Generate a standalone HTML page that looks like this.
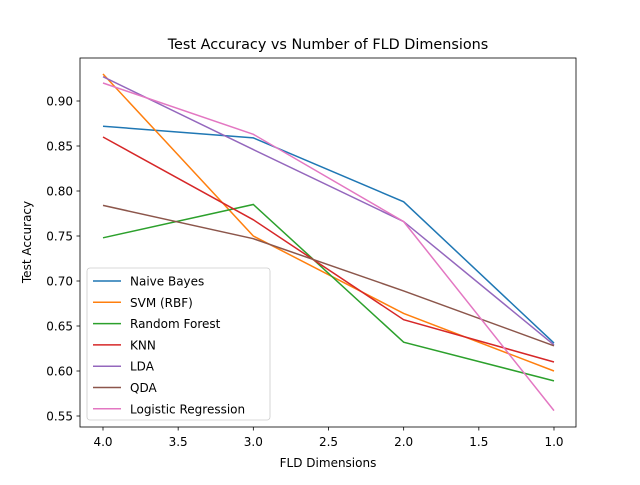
<!DOCTYPE html>
<html><head><meta charset="utf-8"><style>body{margin:0;background:#fff}text{font-family:"DejaVu Sans","Liberation Sans",sans-serif}</style></head>
<body>
<svg id="chart" width="640" height="480" xmlns="http://www.w3.org/2000/svg">
<rect width="640" height="480" fill="#fff"/>
<text x="328" y="49" font-size="14.4" text-anchor="middle">Test Accuracy vs Number of FLD Dimensions</text>
<g id="plot"></g>
<rect x="80" y="58" width="496" height="369" fill="none" stroke="#000" stroke-width="0.8"/>
<text x="328" y="467" font-size="12" text-anchor="middle">FLD Dimensions</text>
<text transform="translate(31,242) rotate(-90)" font-size="12" text-anchor="middle">Test Accuracy</text>
<g id="legend"></g>
</svg>
<script>
const dims=[4,3,2,1];
const seriesNames=["Naive Bayes","SVM (RBF)","Random Forest","KNN","LDA","QDA","Logistic Regression"];
const colors=["#1f77b4","#ff7f0e","#2ca02c","#d62728","#9467bd","#8c564b","#e377c2"];
const naiveBayes=[0.872,0.859,0.788,0.631];
const svm=[0.930,0.750,0.664,0.600];
const randomForest=[0.748,0.785,0.632,0.589];
const knn=[0.860,0.768,0.657,0.610];
const lda=[0.927,0.846,0.766,0.629];
const qda=[0.784,0.747,0.689,0.628];
const logReg=[0.920,0.863,0.766,0.556];
const xTicks=[4.0,3.5,3.0,2.5,2.0,1.5,1.0];
const yTicks=[0.55,0.60,0.65,0.70,0.75,0.80,0.85,0.90];
const allSeries=[naiveBayes,svm,randomForest,knn,lda,qda,logReg];
const NS="http://www.w3.org/2000/svg";
function X(v){return 103+(4-v)*150.33;}
function Y(v){return 101+(0.9-v)*900;}
const g=document.getElementById('plot');
function mk(t,a,p){const e=document.createElementNS(NS,t);for(const k in a)e.setAttribute(k,a[k]);(p||g).appendChild(e);return e;}
xTicks.forEach(t=>{
 const l=mk('line',{x1:X(t),x2:X(t),y1:427,y2:430.5,stroke:'#000','stroke-width':0.8});
 
 
 const s=mk('text',{x:X(t),y:446,'font-size':12,'text-anchor':'middle'});s.textContent=t.toFixed(1);
 
 
});
yTicks.forEach(t=>{
 const l=mk('line',{x1:76.5,x2:80,y1:Y(t),y2:Y(t),stroke:'#000','stroke-width':0.8});
 
 
 const s=mk('text',{x:73,y:Y(t)+4.3,'font-size':12,'text-anchor':'end'});s.textContent=t.toFixed(2);
 
 
});
allSeries.forEach((d,i)=>{
 const p=mk('polyline',{points:d.map((v,j)=>X(dims[j])+','+Y(v)).join(' '),fill:'none',stroke:colors[i],'stroke-width':1.5});
 
 
});
const lg=document.getElementById('legend');
const box=mk('rect',{x:87,y:268,width:183,height:152,rx:3,fill:'#fff','fill-opacity':0.8,stroke:'#ccc','stroke-width':0.8},lg);


seriesNames.forEach((n,i)=>{
 const y=281+i*21.3;
 const l=mk('line',{x1:93,x2:121,y1:y,y2:y,stroke:colors[i],'stroke-width':1.5},lg);
 
 
 const t=mk('text',{x:130,y:y+4.5,'font-size':12},lg);t.textContent=n;
 
 
});
</script>
</body></html>
